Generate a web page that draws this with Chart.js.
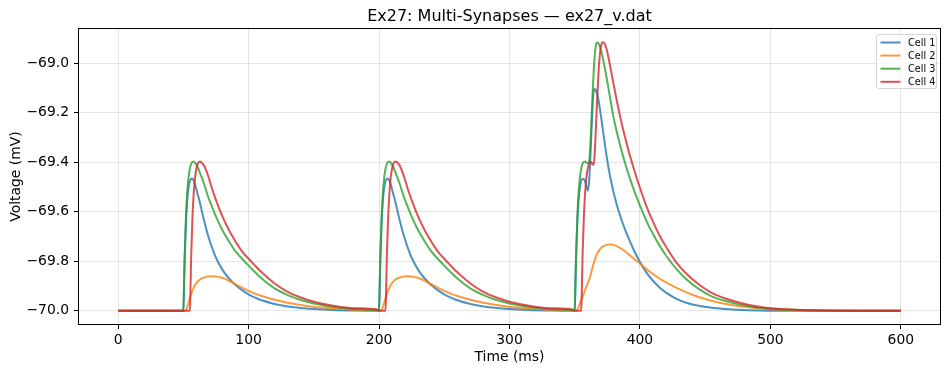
<!DOCTYPE html>
<html><head><meta charset="utf-8">
<script src="https://cdn.jsdelivr.net/npm/chart.js@4.4.1/dist/chart.umd.min.js"></script>
<style>html,body{margin:0;padding:0;background:#fff;}canvas{display:block;}</style>
</head><body>
<canvas id="c" width="950" height="374"></canvas>
<script>
const chartTitle = 'Ex27: Multi-Synapses \u2014 ex27_v.dat';
const xAxisLabel = 'Time (ms)';
const yAxisLabel = 'Voltage (mV)';
const seriesNames = ['Cell 1', 'Cell 2', 'Cell 3', 'Cell 4'];
const xTickValues = [0, 100, 200, 300, 400, 500, 600];
const yTickValues = [-70.0, -69.8, -69.6, -69.4, -69.2, -69.0];

const timeMs = [
  0, 49, 50, 50.5, 51, 52, 53, 54, 55, 55.5, 56, 57, 58, 59, 60, 61, 62.5, 64, 66, 69, 72, 75, 80, 85, 90, 95, 100, 105, 110, 120, 130, 140, 150, 165, 180, 199,
  200, 200.5, 201, 202, 203, 204, 205, 205.5, 206, 207, 208, 209, 210, 211, 212.5, 214, 216, 219, 222, 225, 230, 235, 240, 245, 250, 255, 260, 270, 280, 290, 300, 315, 330, 349,
  350, 350.5, 351, 352, 353, 354, 355, 355.5, 356, 357, 358, 359, 360, 361, 362, 363, 364, 365, 366, 367, 368, 369, 370, 371, 372, 374, 376, 378, 380, 384, 388, 392, 396, 400, 405, 410, 415, 420, 428, 436, 445, 455, 465, 478, 490, 500, 520, 540, 570, 600
];

const cell1 = [
  -70, -70, -70, -69.9, -69.79, -69.64, -69.55, -69.5, -69.475, -69.47, -69.467, -69.467, -69.475, -69.49, -69.51, -69.53, -69.56, -69.594, -69.638, -69.697, -69.745, -69.786, -69.835, -69.87, -69.896, -69.917, -69.934, -69.947, -69.958, -69.973, -69.983, -69.989, -69.993, -69.997, -69.999, -70,
  -70, -69.9, -69.79, -69.64, -69.55, -69.5, -69.475, -69.47, -69.467, -69.467, -69.475, -69.49, -69.51, -69.53, -69.56, -69.594, -69.638, -69.697, -69.745, -69.786, -69.835, -69.87, -69.896, -69.917, -69.934, -69.947, -69.958, -69.973, -69.983, -69.989, -69.993, -69.997, -69.999, -70,
  -70, -69.9, -69.79, -69.64, -69.55, -69.5, -69.475, -69.47, -69.467, -69.468, -69.478, -69.497, -69.515, -69.48, -69.38, -69.25, -69.14, -69.104, -69.107, -69.12, -69.142, -69.174, -69.21, -69.246, -69.285, -69.36, -69.425, -69.48, -69.527, -69.603, -69.664, -69.716, -69.763, -69.803, -69.846, -69.879, -69.906, -69.927, -69.952, -69.969, -69.98, -69.988, -69.993, -69.997, -69.999, -70, -70, -70, -70, -70
];

const cell2 = [
  -70, -70, -70, -70, -70, -69.997, -69.985, -69.968, -69.948, -69.94, -69.932, -69.918, -69.906, -69.896, -69.888, -69.882, -69.875, -69.87, -69.866, -69.862, -69.861, -69.862, -69.868, -69.879, -69.893, -69.907, -69.92, -69.931, -69.941, -69.956, -69.968, -69.977, -69.984, -69.991, -69.996, -69.999,
  -70, -70, -70, -69.997, -69.985, -69.968, -69.948, -69.94, -69.932, -69.918, -69.906, -69.896, -69.888, -69.882, -69.875, -69.87, -69.866, -69.862, -69.861, -69.862, -69.868, -69.879, -69.893, -69.907, -69.92, -69.931, -69.941, -69.956, -69.968, -69.977, -69.984, -69.991, -69.996, -69.999,
  -70, -70, -70, -69.996, -69.986, -69.972, -69.957, -69.95, -69.943, -69.93, -69.916, -69.902, -69.89, -69.876, -69.858, -69.838, -69.818, -69.8, -69.785, -69.772, -69.762, -69.754, -69.748, -69.743, -69.739, -69.735, -69.733, -69.733, -69.735, -69.744, -69.758, -69.775, -69.793, -69.81, -69.832, -69.852, -69.87, -69.886, -69.908, -69.927, -69.945, -69.96, -69.972, -69.983, -69.99, -69.994, -69.998, -70, -70, -70
];

const cell3 = [
  -70, -70, -70, -69.9, -69.78, -69.62, -69.52, -69.46, -69.425, -69.415, -69.405, -69.398, -69.397, -69.402, -69.41, -69.42, -69.44, -69.46, -69.49, -69.54, -69.58, -69.62, -69.675, -69.72, -69.76, -69.79, -69.818, -69.845, -69.87, -69.91, -69.937, -69.957, -69.971, -69.985, -69.993, -69.998,
  -70, -69.9, -69.78, -69.62, -69.52, -69.46, -69.425, -69.415, -69.405, -69.398, -69.397, -69.402, -69.41, -69.42, -69.44, -69.46, -69.49, -69.54, -69.58, -69.62, -69.675, -69.72, -69.76, -69.79, -69.818, -69.845, -69.87, -69.91, -69.937, -69.957, -69.971, -69.985, -69.993, -69.998,
  -70, -69.9, -69.78, -69.62, -69.52, -69.46, -69.425, -69.415, -69.405, -69.398, -69.397, -69.4, -69.403, -69.398, -69.33, -69.21, -69.09, -68.99, -68.935, -68.916, -68.917, -68.928, -68.945, -68.965, -68.99, -69.045, -69.105, -69.168, -69.225, -69.315, -69.393, -69.461, -69.521, -69.575, -69.638, -69.69, -69.737, -69.777, -69.832, -69.875, -69.912, -69.942, -69.96, -69.977, -69.987, -69.992, -69.997, -69.999, -70, -70
];

const cell4 = [
  -70, -70, -70, -70, -70, -70, -70, -70, -70, -69.9, -69.78, -69.62, -69.52, -69.46, -69.425, -69.405, -69.397, -69.401, -69.415, -69.455, -69.507, -69.553, -69.62, -69.675, -69.72, -69.76, -69.79, -69.818, -69.845, -69.89, -69.924, -69.947, -69.964, -69.98, -69.99, -69.996,
  -70, -70, -70, -70, -70, -70, -70, -69.9, -69.78, -69.62, -69.52, -69.46, -69.425, -69.405, -69.397, -69.401, -69.415, -69.455, -69.507, -69.553, -69.62, -69.675, -69.72, -69.76, -69.79, -69.818, -69.845, -69.89, -69.924, -69.947, -69.964, -69.98, -69.99, -69.996,
  -70, -70, -70, -70, -70, -70, -70, -69.9, -69.78, -69.62, -69.52, -69.46, -69.425, -69.405, -69.398, -69.402, -69.41, -69.39, -69.29, -69.17, -69.06, -68.98, -68.935, -68.916, -68.916, -68.935, -68.98, -69.035, -69.09, -69.195, -69.287, -69.367, -69.438, -69.503, -69.578, -69.64, -69.696, -69.742, -69.806, -69.853, -69.893, -69.928, -69.95, -69.97, -69.983, -69.99, -69.996, -69.999, -70, -70
];

const seriesValues = [cell1, cell2, cell3, cell4];
const seriesColors = ['rgba(31,119,180,0.8)', 'rgba(255,127,14,0.8)', 'rgba(44,160,44,0.8)', 'rgba(214,39,40,0.8)'];

const FONT = '"DejaVu Sans", "Liberation Sans", sans-serif';
Chart.defaults.font.family = FONT;

const fmtMinus = v => v.toFixed(1).replace('-', '\u2212');
const fmtInt = v => String(Math.round(v)).replace('-', '\u2212');

const decor = {
  id: 'decor',
  afterDraw(chart) {
    const { ctx, chartArea: a } = chart;
    ctx.save();
    ctx.strokeStyle = '#000';
    ctx.lineWidth = 1;
    const L = Math.round(a.left) - 0.5, T = Math.round(a.top) - 0.5;
    const R = Math.round(a.right) + 0.5, B = Math.round(a.bottom) + 0.5;
    ctx.strokeRect(L, T, R - L, B - T);
    ctx.fillStyle = '#000';
    ctx.font = '16px ' + FONT;
    ctx.textAlign = 'center';
    ctx.textBaseline = 'alphabetic';
    ctx.fillText(chartTitle, (a.left + a.right) / 2, 21);
    const bx0 = 876.5, bx1 = 936.5, by0 = 34.5, by1 = 88.5;
    ctx.beginPath();
    if (ctx.roundRect) ctx.roundRect(bx0, by0, bx1 - bx0, by1 - by0, 2.5);
    else ctx.rect(bx0, by0, bx1 - bx0, by1 - by0);
    ctx.fillStyle = 'rgba(255,255,255,0.8)';
    ctx.fill();
    ctx.strokeStyle = 'rgba(204,204,204,0.8)';
    ctx.lineWidth = 1;
    ctx.stroke();
    ctx.font = '9.7px ' + FONT;
    ctx.textAlign = 'left';
    ctx.textBaseline = 'middle';
    chart.data.datasets.forEach((ds, i) => {
      const y = 42.5 + i * 13.1;
      ctx.strokeStyle = ds.borderColor;
      ctx.lineWidth = 2;
      ctx.beginPath();
      ctx.moveTo(bx0 + 4, y);
      ctx.lineTo(bx0 + 24, y);
      ctx.stroke();
      ctx.fillStyle = '#000';
      ctx.fillText(ds.label, bx0 + 31.5, y + 0.5);
    });
    ctx.restore();
  }
};

new Chart(document.getElementById('c').getContext('2d'), {
  type: 'line',
  data: {
    datasets: seriesNames.map((name, i) => ({
      label: name,
      data: timeMs.map((t, j) => ({ x: t, y: seriesValues[i][j] })),
      borderColor: seriesColors[i],
      backgroundColor: seriesColors[i],
      borderWidth: 2,
      pointRadius: 0,
      fill: false,
      cubicInterpolationMode: 'monotone',
      order: seriesNames.length - i
    }))
  },
  options: {
    responsive: false,
    animation: false,
    devicePixelRatio: 1,
    events: [],
    layout: { padding: { left: 0, top: 29, right: 10, bottom: 0 } },
    plugins: { legend: { display: false }, title: { display: false }, tooltip: { enabled: false } },
    scales: {
      x: {
        type: 'linear',
        min: -30,
        max: 630,
        afterBuildTicks: s => { s.ticks = xTickValues.map(v => ({ value: v })); },
        afterFit: s => { s.height = 50; },
        ticks: { color: '#000', font: { size: 13.9 }, padding: 3, maxRotation: 0, autoSkip: false, callback: v => fmtInt(v) },
        grid: { color: 'rgba(176,176,176,0.33)', lineWidth: 1, drawTicks: true, tickLength: 5, tickColor: '#000', tickWidth: 1 },
        border: { display: false },
        title: { display: true, text: xAxisLabel, color: '#000', font: { size: 13.9 }, padding: { top: 0, bottom: 8.7 } }
      },
      y: {
        type: 'linear',
        min: -70.054,
        max: -68.861,
        afterBuildTicks: s => { s.ticks = yTickValues.map(v => ({ value: v })); },
        afterFit: s => { s.width = 79; },
        ticks: { color: '#000', font: { size: 13.9 }, padding: 5, autoSkip: false, callback: v => fmtMinus(v) },
        grid: { color: 'rgba(176,176,176,0.33)', lineWidth: 1, drawTicks: true, tickLength: 5, tickColor: '#000', tickWidth: 1 },
        border: { display: false },
        title: { display: true, text: yAxisLabel, color: '#000', font: { size: 13.9 }, padding: { top: 7.7, bottom: 0 } }
      }
    }
  },
  plugins: [decor]
});
</script>
</body></html>
